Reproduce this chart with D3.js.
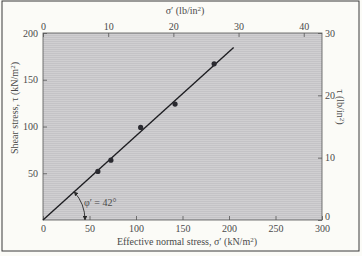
<!DOCTYPE html>
<html>
<head>
<meta charset="utf-8">
<script src="https://cdn.jsdelivr.net/npm/d3@7"></script>
<style>
  html, body { margin: 0; padding: 0; background: #fbfbf7; }
  svg { display: block; }
  text { font-family: "Liberation Serif", "DejaVu Serif", serif; fill: #4a4a4a; }
</style>
</head>
<body>
<div id="chart"></div>
<script>
const WIDTH = 362;
const HEIGHT = 256;

// measured points (sigma', tau) in kN/m2
const sigmaValues = [59, 73, 105, 142, 184];
const tauValues = [52, 64, 99, 124, 167];

// failure envelope end points
const lineSigma = [0, 205];
const lineTau = [0, 184.6];

const bottomTicks = [0, 50, 100, 150, 200, 250, 300];
const leftTicks = [50, 100, 150, 200];
const topTicks = [0, 10, 20, 30, 40];
const rightTicks = [0, 10, 20, 30];

const margin = { top: 33, right: 40, bottom: 36, left: 43 };
const plotW = WIDTH - margin.left - margin.right;
const plotH = HEIGHT - margin.top - margin.bottom;

const svg = d3.select('#chart')
  .append('svg')
  .attr('width', WIDTH)
  .attr('height', HEIGHT);

// page frame
svg.append('rect')
  .attr('x', 2).attr('y', 1)
  .attr('width', 357).attr('height', 250)
  .attr('fill', '#fbfbf7')
  .attr('stroke', '#3a3a3a')
  .attr('stroke-width', 1);

// hatched grey fill
const defs = svg.append('defs');
const pat = defs.append('pattern')
  .attr('id', 'hatch')
  .attr('width', 4).attr('height', 2)
  .attr('patternUnits', 'userSpaceOnUse');
pat.append('rect').attr('width', 4).attr('height', 2).attr('fill', '#d0cfd1');
pat.append('rect').attr('width', 4).attr('height', 1).attr('fill', '#c4c3c6');

const g = svg.append('g')
  .attr('transform', `translate(${margin.left},${margin.top})`);

g.append('rect')
  .attr('width', plotW)
  .attr('height', plotH)
  .attr('fill', 'url(#hatch)')
  .attr('stroke', '#555')
  .attr('stroke-width', 0.8);

// scales
const xScale = d3.scaleLinear().domain([0, 300]).range([0, plotW]);
const yScale = d3.scaleLinear().domain([0, 200]).range([plotH, 0]);
const xTop = d3.scaleLinear().domain([0, 42.8]).range([0, plotW]);
const yRight = d3.scaleLinear().domain([0, 30]).range([plotH, 0]);

function styleAxis(sel) {
  sel.select('.domain').remove();
  sel.selectAll('.tick line').attr('stroke', '#555').attr('stroke-width', 0.8);
  sel.selectAll('.tick text')
    .attr('fill', '#4a4a4a')
    .style('font-size', '10px')
    .style('font-family', '"Liberation Serif", "DejaVu Serif", serif');
}

g.append('g')
  .attr('transform', `translate(0,${plotH})`)
  .call(d3.axisBottom(xScale).tickValues(bottomTicks).tickSize(-4).tickPadding(5))
  .call(styleAxis);

g.append('g')
  .call(d3.axisLeft(yScale).tickValues(leftTicks).tickSize(-4).tickPadding(5))
  .call(styleAxis);

g.append('g')
  .call(d3.axisTop(xTop).tickValues(topTicks).tickSize(-4).tickPadding(3))
  .call(styleAxis);

g.append('g')
  .attr('transform', `translate(${plotW},0)`)
  .call(d3.axisRight(yRight).tickValues(rightTicks).tickSize(-4).tickPadding(3))
  .call(styleAxis)
  .call((a) => a.selectAll('.tick text').filter((d) => d === 0).attr('dy', '-0.05em'));

// failure envelope
g.append('path')
  .datum(lineSigma)
  .attr('fill', 'none')
  .attr('stroke', '#1e1e22')
  .attr('stroke-width', 1.4)
  .attr('d', d3.line()
    .x((d) => xScale(d))
    .y((_d, i) => yScale(lineTau[i])));

// data points
g.selectAll('circle.pt')
  .data(sigmaValues)
  .join('circle')
  .attr('class', 'pt')
  .attr('cx', (d) => xScale(d))
  .attr('cy', (_d, i) => yScale(tauValues[i]))
  .attr('r', 2.6)
  .attr('fill', '#2a2a30');

// friction angle arc with arrows
const marker = defs.append('marker')
  .attr('id', 'arrow')
  .attr('viewBox', '0 0 10 10')
  .attr('refX', 9).attr('refY', 5)
  .attr('markerWidth', 5).attr('markerHeight', 5)
  .attr('orient', 'auto-start-reverse');
marker.append('path').attr('d', 'M0,0 L10,5 L0,10 z').attr('fill', '#2a2a2a');

const arcR = 42;
const ang = Math.atan2(yScale(0) - yScale(lineTau[1]), xScale(lineSigma[1]) - xScale(0));
const ox = xScale(0);
const oy = yScale(0);
g.append('path')
  .attr('fill', 'none')
  .attr('stroke', '#2a2a2a')
  .attr('stroke-width', 0.9)
  .attr('marker-start', 'url(#arrow)')
  .attr('marker-end', 'url(#arrow)')
  .attr('d', `M${ox + arcR * Math.cos(ang)},${oy - arcR * Math.sin(ang)} A${arcR},${arcR} 0 0 1 ${ox + arcR},${oy}`);

g.append('text')
  .attr('x', xScale(44))
  .attr('y', yScale(15))
  .style('font-size', '10px')
  .text('\u03C6\u2032 = 42\u00B0');

// axis titles
svg.append('text')
  .attr('x', 187)
  .attr('y', 245)
  .attr('text-anchor', 'middle')
  .style('font-size', '10px')
  .call((t) => {
    t.append('tspan').text('Effective normal stress, \u03C3\u2032 (kN/m');
    t.append('tspan').attr('dy', -3).style('font-size', '7px').text('2');
    t.append('tspan').attr('dy', 3).text(')');
  });

svg.append('text')
  .attr('x', 185)
  .attr('y', 14)
  .attr('text-anchor', 'middle')
  .style('font-size', '10px')
  .call((t) => {
    t.append('tspan').text('\u03C3\u2032 (lb/in');
    t.append('tspan').attr('dy', -3).style('font-size', '7px').text('2');
    t.append('tspan').attr('dy', 3).text(')');
  });

svg.append('text')
  .attr('transform', 'translate(18,108) rotate(-90)')
  .attr('text-anchor', 'middle')
  .style('font-size', '10px')
  .call((t) => {
    t.append('tspan').text('Shear stress, \u03C4 (kN/m');
    t.append('tspan').attr('dy', -3).style('font-size', '7px').text('2');
    t.append('tspan').attr('dy', 3).text(')');
  });

svg.append('text')
  .attr('transform', 'translate(337,107) rotate(90)')
  .attr('text-anchor', 'middle')
  .style('font-size', '10px')
  .call((t) => {
    t.append('tspan').text('\u03C4 (lb/in');
    t.append('tspan').attr('dy', -3).style('font-size', '7px').text('2');
    t.append('tspan').attr('dy', 3).text(')');
  });
</script>
</body>
</html>
